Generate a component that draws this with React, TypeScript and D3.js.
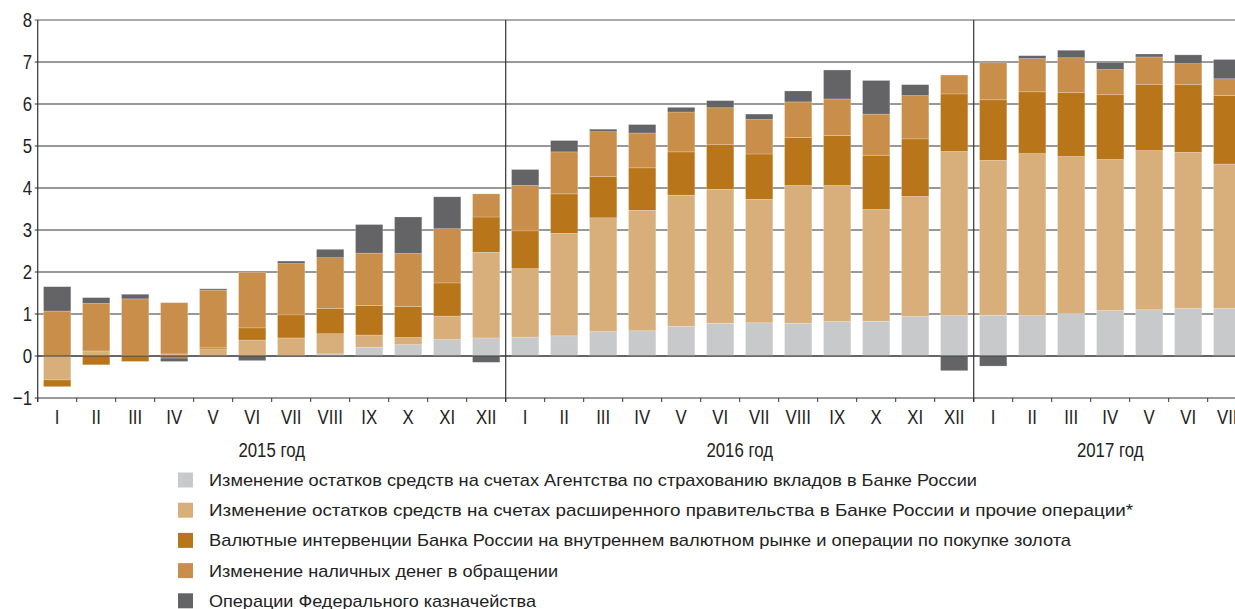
import React from "react";
import * as d3 from "d3";

const months = ["I","II","III","IV","V","VI","VII","VIII","IX","X","XI","XII"];
const periods: string[] = [];
["2015","2016","2017"].forEach((y, yi) => {
  const n = yi === 2 ? 7 : 12;
  for (let i = 0; i < n; i++) periods.push(`${y}-${months[i]}`);
});
const yearLabels = ["2015 год", "2016 год", "2017 год"];
const yearMonths = [12, 12, 7];
const yTicks = [-1, 0, 1, 2, 3, 4, 5, 6, 7, 8];

const dia = [0, 0, 0, 0, 0, 0, 0.01, 0.05, 0.21, 0.27, 0.39, 0.43,
  0.45, 0.48, 0.58, 0.6, 0.71, 0.78, 0.79, 0.78, 0.82, 0.83, 0.94, 0.96,
  0.97, 0.96, 1.01, 1.08, 1.1, 1.13, 1.13];
const gov = [-0.57, 0.12, 0.02, 0.05, 0.17, 0.38, 0.42, 0.48, 0.29, 0.17, 0.56, 2.04,
  1.63, 2.44, 2.71, 2.87, 3.12, 3.19, 2.94, 3.28, 3.24, 2.66, 2.86, 3.91,
  3.69, 3.86, 3.74, 3.6, 3.79, 3.72, 3.44];
const interv = [-0.16, -0.21, -0.13, -0.05, 0.04, 0.29, 0.55, 0.6, 0.7, 0.74, 0.79, 0.84,
  0.9, 0.94, 0.98, 1.01, 1.03, 1.06, 1.08, 1.14, 1.19, 1.29, 1.37, 1.37,
  1.44, 1.47, 1.52, 1.54, 1.58, 1.61, 1.63];
const cash = [1.07, 1.13, 1.34, 1.22, 1.36, 1.32, 1.22, 1.21, 1.25, 1.26, 1.29, 0.55,
  1.08, 1.0, 1.07, 0.83, 0.95, 0.88, 0.82, 0.85, 0.87, 0.98, 1.03, 0.45,
  0.88, 0.79, 0.83, 0.6, 0.65, 0.5, 0.4];
const treasury = [0.58, 0.14, 0.11, -0.08, 0.03, -0.11, 0.06, 0.2, 0.68, 0.87, 0.76, -0.15,
  0.38, 0.27, 0.06, 0.2, 0.11, 0.17, 0.13, 0.26, 0.69, 0.8, 0.26, -0.35,
  -0.24, 0.07, 0.18, 0.17, 0.07, 0.21, 0.46];

const seriesKeys = ["dia", "gov", "interv", "cash", "treasury"];
const seriesNames = [
  "Изменение остатков средств на счетах Агентства по страхованию вкладов в Банке России",
  "Изменение остатков средств на счетах расширенного правительства в Банке России и прочие операции*",
  "Валютные интервенции Банка России на внутреннем валютном рынке и операции по покупке золота",
  "Изменение наличных денег в обращении",
  "Операции Федерального казначейства",
];
const colors = ["#c8c9cb", "#d8ae7b", "#b8751a", "#c98e4a", "#646466"];
const legendWidths = [768, 924, 862, 349, 327];

const W = 1235, H = 609;
const x0 = 37.7, step = 39;
const font = "'Liberation Sans', Arial, sans-serif";
const SX = 0.8;

function CText({ x, y, anchor, size, children }: any) {
  return (
    <g transform={`translate(${x},${y}) scale(${SX},1)`}>
      <text x={0} y={0} dy="0.35em" textAnchor={anchor} fontFamily={font} fontSize={size} fill="#222">
        {children}
      </text>
    </g>
  );
}

export default function App() {
  const rows = periods.map((p, i) => ({
    period: p, dia: dia[i], gov: gov[i], interv: interv[i], cash: cash[i], treasury: treasury[i],
  }));
  const stack = d3.stack<any>().keys(seriesKeys).offset(d3.stackOffsetDiverging);
  const stacked = stack(rows);

  const x = d3.scaleBand<string>()
    .domain(periods)
    .range([x0, x0 + periods.length * step])
    .paddingInner(0.3)
    .paddingOuter(0.15);
  const y = d3.scaleLinear().domain([-1, 8]).range([398, 20]);

  const yearStarts: number[] = [];
  let acc = 0;
  yearMonths.forEach((n) => { yearStarts.push(acc); acc += n; });

  return (
    <svg width={W} height={H} style={{ position: "absolute", left: 0, top: 0, background: "#fff" }}>
      {yTicks.map((t) => (
        <line key={t} x1={x0 - 3} x2={W} y1={y(t)} y2={y(t)}
          stroke={t === 8 ? "#555" : "#333"} strokeWidth={1} />
      ))}
      {stacked.map((s, si) => (
        <g key={s.key} fill={colors[si]}>
          {s.map((d, i) => {
            const top = y(Math.max(d[0], d[1]));
            const bot = y(Math.min(d[0], d[1]));
            const h = bot - top;
            if (h <= 0.01) return null;
            return (
              <rect key={i} x={x(periods[i])} y={top} width={x.bandwidth()} height={h}
                stroke="#ffffff" strokeOpacity={0.35} strokeWidth={0.6} />
            );
          })}
        </g>
      ))}
      <line x1={x0} x2={W} y1={y(0)} y2={y(0)} stroke="#333" strokeWidth={1} />
      <line x1={x0} x2={x0} y1={y(8)} y2={y(-1) + 4} stroke="#333" strokeWidth={1.2} />
      {yearStarts.slice(1).map((s) => (
        <line key={s} x1={x0 + s * step} x2={x0 + s * step} y1={y(8)} y2={y(-1) + 4}
          stroke="#333" strokeWidth={1.2} />
      ))}
      {d3.range(periods.length + 1).map((i) => (
        <line key={i} x1={x0 + i * step} x2={x0 + i * step} y1={y(-1)} y2={y(-1) + 4}
          stroke="#333" strokeWidth={1} />
      ))}
      {yTicks.map((t) => (
        <CText key={t} x={32} y={y(t)} anchor="end" size={21}>
          {t < 0 ? `\u2212${Math.abs(t)}` : t}
        </CText>
      ))}
      {periods.map((p) => (
        <CText key={p} x={(x(p) as number) + x.bandwidth() / 2} y={417} anchor="middle" size={21}>
          {p.split("-")[1]}
        </CText>
      ))}
      {yearLabels.map((lab, yi) => (
        <CText key={lab} x={x0 + (yearStarts[yi] + yearMonths[yi] / 2) * step} y={450} anchor="middle" size={21}>
          {lab}
        </CText>
      ))}
      {seriesNames.map((name, i) => (
        <g key={name} transform={`translate(178, ${480 + i * 30.2})`}>
          <rect x={0} y={-7.5} width={15} height={15} fill={colors[i]} />
          <text x={31} y={0} dy="0.35em" fontFamily={font} fontSize={17} fill="#222"
            textLength={legendWidths[i]} lengthAdjust="spacingAndGlyphs">
            {name}
          </text>
        </g>
      ))}
    </svg>
  );
}
